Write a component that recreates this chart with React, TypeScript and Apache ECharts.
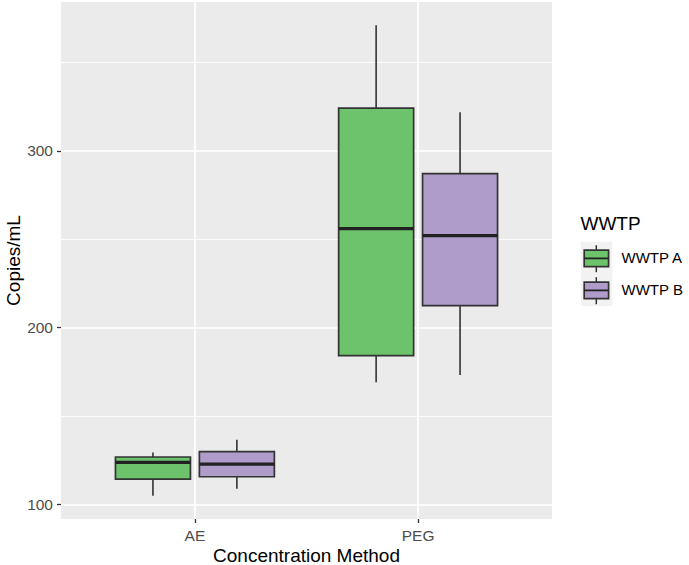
import React, { useEffect, useRef } from 'react';
import * as echarts from 'echarts';

const categories = ['AE', 'PEG'];
const groups = ['WWTP A', 'WWTP B'];
// [lower whisker, Q1, median, Q3, upper whisker] per category
const wwtpA = [
  [104.9, 114.3, 123.8, 126.8, 129.4],
  [169.1, 184.2, 256.0, 324.2, 371.1],
];
const wwtpB = [
  [108.8, 115.6, 122.8, 129.8, 136.6],
  [173.2, 212.5, 252.1, 287.2, 321.9],
];
const yMajorTicks = [100, 200, 300];
const yMinorTicks = [150, 250, 350];
const groupColors = ['#6dc36b', '#af9ccb'];

const FONT = '"Liberation Sans", Arial, Helvetica, sans-serif';
const DODGE = 0.188;
const HALF_W = 0.168;

function makeSeries(stats: number[][], gi: number) {
  const offset = gi === 0 ? -DODGE : DODGE;
  return {
    type: 'custom',
    name: groups[gi],
    z: 5,
    data: categories.map((_, i) => [i + 1 + offset, ...stats[i]]),
    renderItem: (params: any, api: any) => {
      const x = api.value(0);
      const lo = api.value(1), q1 = api.value(2), md = api.value(3), q3 = api.value(4), hi = api.value(5);
      const pHi = api.coord([x, hi]);
      const pQ3 = api.coord([x, q3]);
      const pMd = api.coord([x, md]);
      const pQ1 = api.coord([x, q1]);
      const pLo = api.coord([x, lo]);
      const l = api.coord([x - HALF_W, q3])[0];
      const r = api.coord([x + HALF_W, q3])[0];
      const cx = pMd[0];
      const ws = { stroke: '#333333', lineWidth: 1.6 };
      return {
        type: 'group',
        children: [
          { type: 'line', shape: { x1: cx, y1: pHi[1], x2: cx, y2: pQ3[1] }, style: ws },
          { type: 'line', shape: { x1: cx, y1: pQ1[1], x2: cx, y2: pLo[1] }, style: ws },
          {
            type: 'rect',
            shape: { x: l, y: pQ3[1], width: r - l, height: pQ1[1] - pQ3[1] },
            style: { fill: groupColors[gi], stroke: '#333333', lineWidth: 1.7 },
          },
          { type: 'line', shape: { x1: l, y1: pMd[1], x2: r, y2: pMd[1] }, style: { stroke: '#222222', lineWidth: 3.2 } },
        ],
      };
    },
  };
}

function legendGraphics() {
  const items: any[] = [
    {
      type: 'text', left: 580.5, top: 214,
      style: { text: 'WWTP', fontSize: 19, fontFamily: FONT, fill: '#000' },
    },
    {
      type: 'rect', shape: { x: 580.7, y: 241.7, width: 31.6, height: 64.3 },
      style: { fill: '#F2F2F2' },
    },
  ];
  groups.forEach((g, i) => {
    const y0 = 241.7 + i * 32;
    const cx = 596.3;
    items.push(
      { type: 'line', shape: { x1: cx, y1: y0 + 3.5, x2: cx, y2: y0 + 30.5 }, style: { stroke: '#333', lineWidth: 1.5 } },
      {
        type: 'rect', shape: { x: 584.2, y: y0 + 8.5, width: 24.4, height: 16.5 },
        style: { fill: groupColors[i], stroke: '#333', lineWidth: 1.7 },
      },
      { type: 'line', shape: { x1: 584.2, y1: y0 + 16.7, x2: 608.6, y2: y0 + 16.7 }, style: { stroke: '#222', lineWidth: 1.8 } },
      {
        type: 'text', left: 621.5, top: y0 + 8.5,
        style: { text: g, fontSize: 15, fontFamily: FONT, fill: '#000' },
      }
    );
  });
  return items;
}

export default function App() {
  const ref = useRef<HTMLDivElement>(null);
  useEffect(() => {
    if (!ref.current) return;
    const chart = echarts.init(ref.current, undefined, { renderer: 'svg' });
    chart.setOption({
      animation: false,
      backgroundColor: '#ffffff',
      textStyle: { fontFamily: FONT },
      grid: {
        left: 61, right: 137, top: 2, bottom: 46,
        show: true, backgroundColor: '#EBEBEB', borderWidth: 0,
        containLabel: false,
        outerBoundsMode: 'none',
      },
      xAxis: {
        type: 'value',
        min: 0.4, max: 2.6, splitNumber: 2,
        name: 'Concentration Method',
        nameLocation: 'middle',
        nameGap: 27,
        nameMoveOverlap: false,
        nameTextStyle: { fontSize: 19, color: '#000', fontFamily: FONT, lineHeight: 19 },
        axisLine: { show: false },
        axisTick: { show: true, length: 4, lineStyle: { color: '#333', width: 1.3 }, customValues: [1, 2] },
        axisLabel: {
          margin: 8, fontSize: 15.5, color: '#4D4D4D', fontFamily: FONT,
          customValues: [1, 2],
          formatter: (v: number) => (Math.abs(v - 1) < 1e-6 ? categories[0] : Math.abs(v - 2) < 1e-6 ? categories[1] : ''),
        },
        splitLine: { show: true, lineStyle: { color: '#ffffff', width: 1.7 } },
      },
      yAxis: {
        type: 'value',
        min: 91.7, max: 384.3, splitNumber: 3,
        name: 'Copies/mL',
        nameLocation: 'middle',
        nameGap: 38,
        nameMoveOverlap: false,
        nameTextStyle: { fontSize: 19, color: '#000', fontFamily: FONT, lineHeight: 19 },
        axisLine: { show: false },
        axisTick: { show: true, length: 4, lineStyle: { color: '#333', width: 1.3 }, customValues: yMajorTicks },
        axisLabel: {
          margin: 8, fontSize: 15.5, color: '#4D4D4D', fontFamily: FONT,
          customValues: yMajorTicks,
        },
        splitLine: { show: true, lineStyle: { color: '#ffffff', width: 1.7 } },
      },
      series: [
        {
          type: 'line',
          data: [],
          z: 1,
          silent: true,
          markLine: {
            silent: true,
            symbol: 'none',
            label: { show: false },
            lineStyle: { color: '#ffffff', width: 0.9, type: 'solid' },
            data: yMinorTicks.map((v) => ({ yAxis: v })),
          },
        },
        makeSeries(wwtpA, 0),
        makeSeries(wwtpB, 1),
      ],
      graphic: legendGraphics(),
    });
    return () => chart.dispose();
  }, []);
  return <div ref={ref} style={{ position: 'fixed', left: 0, top: 0, width: 689, height: 565 }} />;
}
